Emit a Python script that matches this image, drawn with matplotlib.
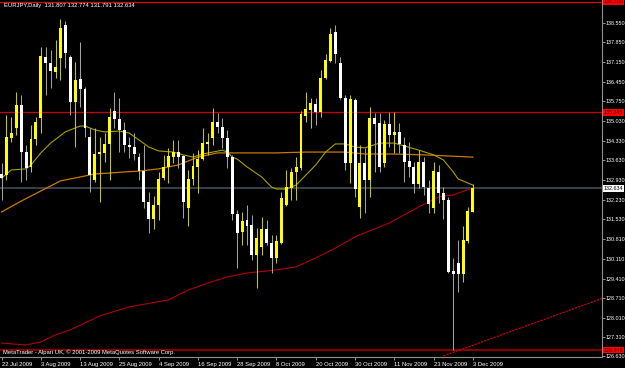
import matplotlib.pyplot as plt
import numpy as np

plt.rcParams['font.family'] = ['Liberation Sans', 'DejaVu Sans']

# EURJPY daily candles, 22 Jul 2009 .. 3 Dec 2009
opens = [133.15, 133.11, 134.43, 134.79, 135.61, 133.93, 133.40, 134.40, 135.15, 137.33,
         137.11, 136.79, 137.29, 138.47, 137.33, 135.72, 136.54, 136.18, 134.47, 132.93,
         133.86, 133.90, 134.22, 135.40, 135.11, 134.72, 134.18, 134.11, 133.75, 133.25,
         132.15, 131.54, 132.04, 133.00, 133.40, 133.75, 133.93, 133.79, 131.93, 132.97,
         133.40, 133.68, 134.22, 134.43, 135.00, 134.83, 134.43, 133.75, 131.72, 131.08,
         131.50, 131.33, 130.25, 130.54, 131.18, 130.68, 130.15, 130.68, 132.04, 132.65,
         133.22, 133.36, 135.22, 135.43, 135.65, 135.36, 136.58, 137.18, 138.22, 137.11,
         135.86, 133.54, 135.79, 131.97, 133.54, 132.93, 135.15, 134.97, 133.54, 134.93,
         134.54, 134.65, 134.18, 133.61, 133.40, 132.79, 133.58, 132.65, 131.93, 133.22,
         132.47, 132.22, 129.68, 129.97, 129.58, 130.75, 131.807]
highs = [133.54, 135.25, 135.18, 136.08, 135.97, 134.18, 134.90, 135.18, 137.68, 137.68,
         137.58, 137.93, 138.68, 138.61, 137.40, 137.15, 137.86, 136.25, 134.79, 134.79,
         134.47, 134.61, 135.50, 136.08, 135.86, 135.00, 134.47, 134.61, 133.90, 134.18,
         132.50, 132.36, 133.22, 133.83, 134.08, 134.36, 134.36, 133.83, 133.29, 133.90,
         134.00, 134.79, 134.61, 135.50, 135.33, 135.15, 134.72, 133.83, 131.86, 131.79,
         132.04, 131.68, 131.22, 131.61, 131.50, 130.97, 130.97, 132.50, 133.29, 133.36,
         133.75, 135.40, 136.08, 135.86, 135.86, 136.86, 137.43, 138.36, 138.47, 137.33,
         135.97, 135.97, 135.86, 134.18, 134.08, 135.54, 135.33, 135.33, 135.08, 135.36,
         135.36, 134.97, 134.47, 134.29, 133.58, 134.00, 133.75, 132.93, 133.58, 133.47,
         132.68, 132.33, 130.15, 130.79, 131.29, 131.97, 132.774]
lows = [132.22, 132.93, 134.29, 134.54, 132.86, 132.93, 133.22, 134.18, 134.61, 135.97,
        136.22, 136.58, 136.50, 136.93, 135.25, 134.11, 135.54, 134.47, 132.50, 132.86,
        132.15, 133.58, 132.93, 134.79, 133.93, 133.93, 133.72, 133.65, 132.93, 131.93,
        131.04, 131.18, 131.50, 132.93, 132.83, 133.54, 133.36, 131.58, 131.29, 132.75,
        132.47, 133.65, 133.83, 134.18, 134.61, 134.08, 133.36, 131.50, 129.79, 130.61,
        130.61, 130.08, 129.08, 130.25, 130.61, 129.61, 129.97, 130.65, 132.00, 132.22,
        132.22, 133.29, 135.00, 134.79, 134.90, 135.18, 136.54, 137.15, 137.11, 135.83,
        133.29, 132.83, 132.33, 131.58, 131.75, 132.33, 133.22, 133.22, 133.40, 134.11,
        133.90, 133.90, 132.86, 133.04, 132.47, 132.65, 132.40, 131.75, 131.75, 132.11,
        131.54, 129.61, 126.86, 128.93, 129.29, 130.68, 131.791]
closes = [133.00, 134.47, 134.61, 135.61, 133.93, 133.36, 134.40, 135.00, 137.36, 137.11,
          136.83, 136.97, 138.36, 137.47, 135.72, 136.50, 136.18, 134.79, 133.11, 133.86,
          133.93, 134.22, 135.18, 135.11, 134.72, 134.18, 134.11, 133.86, 133.25, 132.15,
          131.54, 132.04, 132.97, 133.40, 133.79, 133.93, 133.75, 132.15, 132.97, 133.43,
          133.68, 134.25, 134.29, 135.00, 134.83, 134.43, 133.75, 131.72, 131.04, 131.47,
          131.29, 130.25, 130.86, 131.18, 130.68, 130.15, 130.75, 132.29, 132.68, 133.22,
          133.40, 135.29, 135.47, 135.68, 135.36, 136.58, 137.22, 138.15, 137.43, 135.86,
          133.54, 135.83, 132.61, 133.54, 132.93, 135.15, 134.93, 133.40, 134.93, 134.54,
          134.65, 134.22, 133.58, 133.40, 132.79, 133.58, 132.68, 132.08, 133.25, 132.47,
          132.22, 129.65, 129.58, 129.58, 130.79, 131.83, 132.634]

# moving averages at some bars
ma_fast_bars = [0, 2, 5, 6, 8, 10, 13, 16, 17, 19, 21, 24, 26, 28, 30, 32, 35, 37, 39, 41,
                43, 45, 46, 47, 48, 50, 53, 55, 56, 58, 60, 62, 64, 66, 68, 70, 72, 74, 77, 80,
                82, 85, 88, 90, 92, 93, 96]
ma_fast = [133.00, 133.29, 133.33, 133.47, 133.90, 134.25, 134.65, 134.86, 134.86, 134.72,
           134.65, 134.68, 134.61, 134.36, 134.11, 133.97, 133.93, 133.83, 133.75, 133.86,
           133.93, 134.00, 133.93, 133.75, 133.68, 133.40, 133.04, 132.68, 132.61, 132.61,
           132.75, 133.11, 133.47, 133.93, 134.22, 134.22, 134.11, 134.08, 134.25, 134.25,
           134.15, 134.00, 133.83, 133.65, 133.22, 132.97, 132.75]
ma_mid_bars = [0, 4, 8, 12, 16, 19, 22, 25, 28, 32, 36, 40, 44, 48, 56, 62, 70, 74, 80, 86, 96]
ma_mid = [131.79, 132.18, 132.54, 132.90, 133.04, 133.15, 133.18, 133.22, 133.25, 133.33,
          133.47, 133.75, 133.90, 133.90, 133.90, 133.93, 133.93, 133.86, 133.86, 133.83, 133.75]
ma_slow_bars = [0, 5, 8, 11, 14, 20, 26, 34, 38, 42, 46, 50, 56, 60, 64, 68, 72, 79, 85, 89, 92, 96]
ma_slow = [127.11, 127.04, 127.15, 127.40, 127.58, 128.08, 128.40, 128.65, 129.00, 129.25,
           129.47, 129.61, 129.72, 129.83, 130.15, 130.50, 130.90, 131.40, 131.97, 132.33,
           132.40, 132.65]

# horizontal levels and trend line
level_top = 139.30
level_res = 135.345
level_sup = 126.849
bid = 132.634
trend_bars = [90, 122.3]
trend_prices = [126.65, 128.70]

price_ticks = [138.550, 137.850, 137.150, 136.450, 135.750, 135.030, 134.330, 133.630, 132.930,
               132.230, 131.530, 130.810, 130.110, 129.410, 128.710, 128.010, 127.310, 126.630]
date_ticks = [0, 8, 16, 24, 32, 40, 48, 56, 64, 72, 80, 88, 96]
date_labels = ['22 Jul 2009', '3 Aug 2009', '13 Aug 2009', '25 Aug 2009', '4 Sep 2009',
               '16 Sep 2009', '28 Sep 2009', '8 Oct 2009', '20 Oct 2009', '30 Oct 2009',
               '11 Nov 2009', '23 Nov 2009', '3 Dec 2009']

fig = plt.figure(figsize=(6.25, 3.68), dpi=100, facecolor='black')
ax = fig.add_axes([0, 11 / 368, 602 / 625, 357 / 368])
ax.set_facecolor('black')
ax.set_xlim(-0.31, 122.3)
ax.set_ylim(126.611, 139.361)

o = np.array(opens)
h = np.array(highs)
l = np.array(lows)
c = np.array(closes)
x = np.arange(len(o))
up = c >= o

# levels
ax.axhline(level_top, color='#e00000', lw=0.9, zorder=1)
ax.axhline(level_res, color='#c80000', lw=0.9, zorder=1)
ax.axhline(level_sup, color='#800000', lw=1.6, zorder=1)
ax.axhline(bid, color='#3a4650', lw=1.3, zorder=1)

# moving averages
ax.plot(ma_slow_bars, ma_slow, color='#b40000', lw=0.8, zorder=2)
ax.plot(ma_mid_bars, ma_mid, color='#c87800', lw=0.9, zorder=2)
ax.plot(ma_fast_bars, ma_fast, color='#a8a000', lw=0.8, zorder=2)
ax.plot(trend_bars, trend_prices, color='#e00000', lw=0.8, ls=(0, (2, 1)), zorder=2)

# candles
ax.vlines(x[up], l[up], h[up], color='#c8c800', lw=0.75, zorder=3)
ax.vlines(x[~up], l[~up], h[~up], color='#a0a0a0', lw=0.75, zorder=3)
body = np.maximum(np.abs(c - o), 0.04)
ax.bar(x[up], body[up], bottom=np.minimum(o, c)[up], width=0.6, color='#ffff00', zorder=4)
ax.bar(x[~up], body[~up], bottom=np.minimum(o, c)[~up], width=0.6, color='#ffffff', zorder=4)

# axes look
for s in ['top', 'left']:
    ax.spines[s].set_visible(False)
for s in ['right', 'bottom']:
    ax.spines[s].set_color('#909090')
    ax.spines[s].set_linewidth(0.8)

ax.yaxis.tick_right()
ax.set_yticks(price_ticks)
ax.set_yticklabels([f'{p:.3f}' for p in price_ticks])
ax.tick_params(axis='y', colors='#909090', labelcolor='white', length=2, width=0.7,
               pad=0.6, labelsize=3.9)
ax.set_xticks(date_ticks)
ax.set_xticklabels(date_labels)
for t in ax.get_xticklabels():
    t.set_ha('left')
ax.tick_params(axis='x', colors='#909090', labelcolor='white', length=2.5, width=0.7,
               pad=1, labelsize=4.2)

# price boxes on the right scale
tr = ax.get_yaxis_transform()
for val, fc, tc in [(level_top, '#ff0000', '#600000'), (level_res, '#ff0000', '#600000'),
                    (level_sup, '#ff0000', '#600000'), (bid, '#ffffff', 'black')]:
    ax.text(1.003, val, f'{val:.3f}', transform=tr, ha='left', va='center', fontsize=3.9,
            color=tc, bbox=dict(boxstyle='square,pad=0.12', fc=fc, ec='none'), clip_on=False)

fig.text(4 / 625, 1 - 6 / 368, 'EURJPY,Daily  131.807 132.774 131.791 132.634',
         color='white', fontsize=4.2, ha='left', va='center')
fig.text(3 / 625, 1 - 352 / 368, 'MetaTrader - Alpari UK, © 2001-2009 MetaQuotes Software Corp.',
         color='white', fontsize=4.2, ha='left', va='center')

fig.savefig('out.png', dpi=100, facecolor='black')
